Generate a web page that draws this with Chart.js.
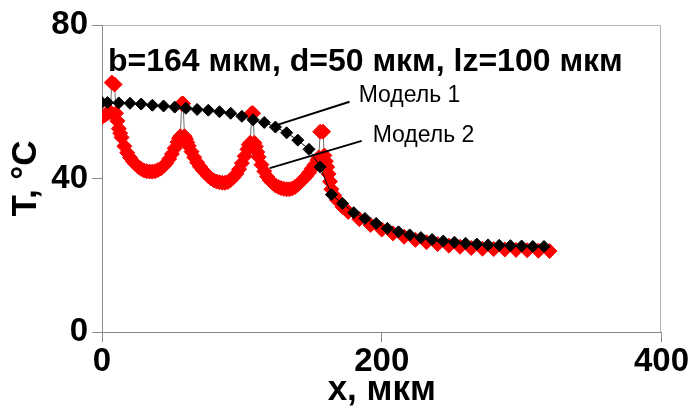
<!DOCTYPE html>
<html>
<head>
<meta charset="utf-8">
<script src="https://cdn.jsdelivr.net/npm/chart.js@4/dist/chart.umd.min.js"></script>
<style>
  html, body { margin: 0; padding: 0; background: #fff; }
  canvas { display: block; }
</style>
</head>
<body>
<canvas id="c" width="689" height="411" style="width:689px;height:411px"></canvas>
<script>
const FONT = "'Liberation Sans', Arial, Helvetica, sans-serif";

// Model 1 — coarse grid (x in µm, T in °C)
const model1X = [0, 4, 12, 20, 28, 36, 44, 52, 60, 68, 76, 84, 92, 100, 108, 116, 124, 132, 140, 148,
  156, 164, 172, 180, 188, 196, 204, 212, 220, 228, 236, 244, 252, 260, 268, 276, 284, 292, 300, 308, 316];
const model1T = [59.8, 59.8, 59.7, 59.6, 59.4, 59.1, 58.9, 58.6, 58.3, 58.0, 57.8, 57.4, 57.0, 56.2, 55.3, 54.6, 53.4, 51.9, 50.0, 47.6,
  43.0, 35.8, 33.5, 31.1, 29.6, 28.3, 27.0, 26.1, 25.3, 24.6, 24.1, 23.7, 23.4, 23.1, 22.9, 22.7, 22.6, 22.5, 22.4, 22.3, 22.3];

// Model 2 — fine grid over the heated zone, coarse beyond it
const model2X = [0, 2, 4, 6, 7, 9, 10, 11, 12, 13,
  14, 16, 18, 20, 22, 24, 26, 28, 30, 32,
  34, 36, 38, 40, 42, 44, 46, 48, 50, 52,
  54, 55, 56, 57, 58, 59, 60, 61, 62, 64,
  66, 68, 70, 72, 74, 76, 78, 80, 82, 84,
  86, 88, 90, 92, 94, 96, 98, 100, 102, 104,
  105, 106, 107, 108, 109, 110, 111, 112, 114, 116,
  118, 120, 122, 124, 126, 128, 130, 132, 134, 136,
  138, 140, 142, 144, 146, 148, 150, 152, 154, 155,
  156, 158, 159, 160, 161, 162, 163, 164, 166, 168,
  172, 176, 184, 192, 200, 208, 216, 224, 232, 240,
  248, 256, 264, 272, 280, 288, 296, 304, 312, 320];
const model2T = [56.0, 56.5, 57.0, 57.3, 65.0, 64.5, 57.0, 55.0, 53.0, 51.8,
  50.7, 48.4, 46.7, 45.5, 44.5, 43.7, 43.0, 42.5, 42.1, 41.9,
  41.8, 41.8, 41.9, 42.2, 42.6, 43.2, 44.0, 45.1, 46.4, 47.9,
  49.5, 50.4, 51.0, 59.5, 59.5, 51.0, 50.3, 49.4, 48.5, 47.0,
  45.5, 44.2, 43.1, 42.2, 41.4, 40.6, 40.0, 39.5, 39.2, 39.0,
  38.9, 38.9, 39.1, 39.6, 40.3, 41.2, 42.4, 44.0, 45.8, 47.6,
  48.8, 49.3, 57.0, 57.0, 49.3, 48.3, 46.9, 45.6, 43.6, 41.9,
  40.5, 39.5, 38.8, 38.2, 37.8, 37.5, 37.3, 37.2, 37.2, 37.4,
  37.8, 38.4, 39.1, 39.8, 40.6, 41.5, 42.6, 43.6, 44.8, 45.5,
  52.2, 52.2, 46.0, 44.5, 43.0, 41.2, 39.2, 37.2, 35.6, 34.4,
  32.6, 31.3, 29.4, 27.9, 26.7, 25.7, 24.8, 24.0, 23.4, 22.9,
  22.5, 22.2, 21.9, 21.7, 21.6, 21.5, 21.4, 21.3, 21.2, 21.1];

const seriesNames = ['Модель 1', 'Модель 2'];
const xTicks = [0, 200, 400];
const yTicks = [0, 40, 80];
const xTitle = 'x, мкм';
const yTitle = 'T, °C';
const caption = 'b=164 мкм, d=50 мкм, lz=100 мкм';

// Where the caption and the callouts sit, in axis units
const captionAt = { x: 4.3, y: 68.0 };
const callouts = [
  { name: seriesNames[0], text: { x: 183.5, y: 60.0 }, from: { x: 177, y: 60.0 }, to: { x: 124.8, y: 53.9 } },
  { name: seriesNames[1], text: { x: 193.5, y: 49.6 }, from: { x: 185.7, y: 49.8 }, to: { x: 120.0, y: 42.7 } }
];

const axisGrey = '#8a8a8a';
const frameGrey = '#b4b4b4';
const tickFont = { family: FONT, size: 33, weight: 'bold' };
const titleFont = { family: FONT, size: 35, weight: 'bold' };

const toPoints = (xs, ys) => xs.map((v, i) => ({ x: v, y: ys[i] }));

// Thin frame on the top and right sides of the plot area
const frame = {
  id: 'frame',
  beforeDatasetsDraw(chart) {
    const { ctx, chartArea: a } = chart;
    ctx.save();
    ctx.strokeStyle = frameGrey;
    ctx.lineWidth = 1;
    ctx.beginPath();
    ctx.moveTo(Math.round(a.left) + 0.5, Math.round(a.top) + 0.5);
    ctx.lineTo(Math.round(a.right) - 0.5, Math.round(a.top) + 0.5);
    ctx.lineTo(Math.round(a.right) - 0.5, Math.round(a.bottom));
    ctx.stroke();
    ctx.restore();
  }
};

// Caption and the two callouts with their leader lines
const overlay = {
  id: 'overlay',
  afterDatasetsDraw(chart) {
    const { ctx, scales: { x, y } } = chart;
    ctx.save();
    ctx.fillStyle = '#000';
    ctx.textAlign = 'left';
    ctx.textBaseline = 'alphabetic';
    ctx.font = `bold 32px ${FONT}`;
    ctx.fillText(caption, x.getPixelForValue(captionAt.x), y.getPixelForValue(captionAt.y));

    ctx.strokeStyle = '#000';
    ctx.lineWidth = 2;
    ctx.font = `23px ${FONT}`;
    callouts.forEach(c => {
      ctx.beginPath();
      ctx.moveTo(x.getPixelForValue(c.from.x), y.getPixelForValue(c.from.y));
      ctx.lineTo(x.getPixelForValue(c.to.x), y.getPixelForValue(c.to.y));
      ctx.stroke();
      ctx.fillText(c.name, x.getPixelForValue(c.text.x), y.getPixelForValue(c.text.y));
    });
    ctx.restore();
  }
};

new Chart(document.getElementById('c'), {
  type: 'scatter',
  data: {
    datasets: [
      {
        label: seriesNames[0],
        data: toPoints(model1X, model1T),
        showLine: true,
        borderColor: '#000',
        borderWidth: 1,
        pointStyle: 'rectRot',
        pointRadius: 6,
        pointBackgroundColor: '#000',
        pointBorderColor: '#000',
        pointBorderWidth: 1
      },
      {
        label: seriesNames[1],
        data: toPoints(model2X, model2T),
        showLine: true,
        borderColor: '#6e6e6e',
        borderWidth: 1,
        pointStyle: 'rectRot',
        pointRadius: 7.5,
        pointBackgroundColor: '#ff0000',
        pointBorderColor: '#ff0000',
        pointBorderWidth: 1
      }
    ]
  },
  options: {
    responsive: false,
    animation: false,
    devicePixelRatio: 1,
    layout: { padding: { top: 25, right: 27, left: 0, bottom: 0 } },
    plugins: { legend: { display: false }, tooltip: { enabled: false } },
    scales: {
      x: {
        type: 'linear',
        min: xTicks[0],
        max: xTicks[xTicks.length - 1],
        afterBuildTicks: s => { s.ticks = xTicks.map(v => ({ value: v })); },
        afterFit: s => { s.height = 79; },
        ticks: { color: '#000', font: tickFont, padding: 0, maxRotation: 0 },
        grid: { drawOnChartArea: false, drawTicks: true, tickLength: 10, tickColor: axisGrey, color: axisGrey },
        border: { color: axisGrey, width: 1 },
        title: { display: true, text: xTitle, color: '#000', font: titleFont, padding: { top: 0, bottom: 0 } }
      },
      y: {
        type: 'linear',
        min: yTicks[0],
        max: yTicks[yTicks.length - 1],
        afterBuildTicks: s => { s.ticks = yTicks.map(v => ({ value: v })); },
        afterFit: s => { s.width = 102; },
        ticks: { color: '#000', font: tickFont, padding: 4 },
        grid: { drawOnChartArea: false, drawTicks: true, tickLength: 10, tickColor: axisGrey, color: axisGrey },
        border: { color: axisGrey, width: 1 },
        title: { display: true, text: yTitle, color: '#000', font: titleFont, padding: { top: 5, bottom: 0 } }
      }
    }
  },
  plugins: [frame, overlay]
});
</script>
</body>
</html>
